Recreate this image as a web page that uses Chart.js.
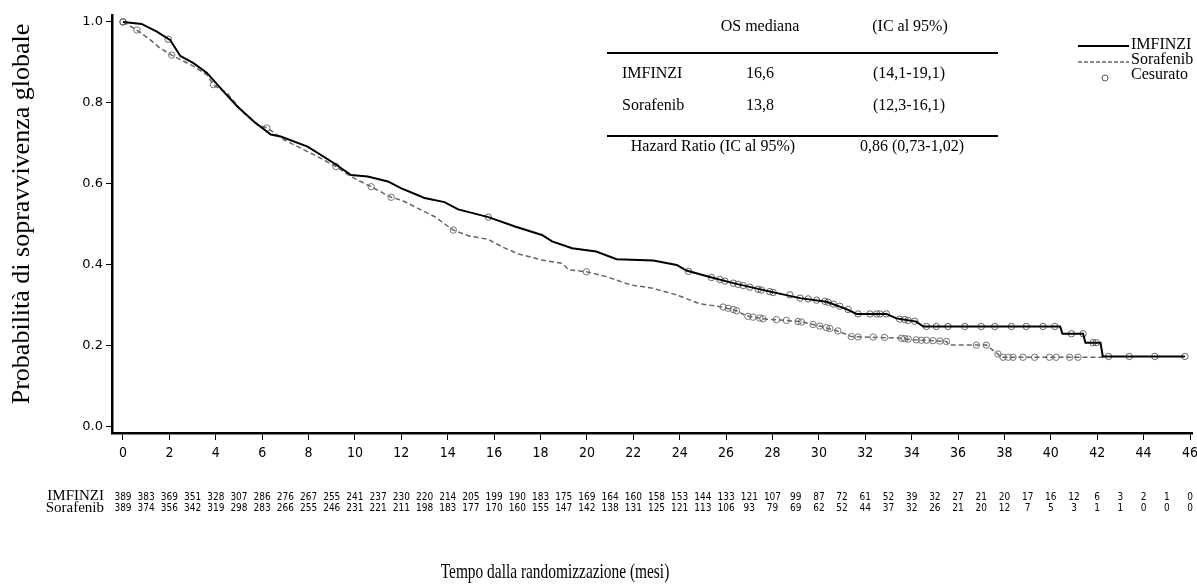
<!DOCTYPE html>
<html>
<head>
<meta charset="utf-8">
<script src="https://cdn.jsdelivr.net/npm/chart.js@4.4.1/dist/chart.umd.min.js"></script>
<style>
  html, body { margin: 0; padding: 0; background: #fff; }
  canvas { display: block; }
</style>
</head>
<body>
<canvas id="km-chart" width="1197" height="588"></canvas>
<script>
// Curva IMFINZI (mesi / probabilità)
const imfTime = [0, 0.8, 1.46, 2.04, 2.47, 3.04, 3.62, 4.34, 4.93, 5.64, 6.37, 6.8, 7.96, 9.1, 9.83, 10.55, 11.42, 12.0, 12.72, 13.0, 13.86, 14.45, 15.75, 16.9, 18.06, 18.5, 19.36, 20.4, 21.28, 22.86, 23.87, 24.29, 25.3, 26.31, 27.9, 29.19, 30.33, 31.19, 31.62, 32.91, 33.34, 34.2, 34.5, 40.4, 40.5, 41.39, 41.49, 42.14, 42.24, 45.78];
const imfSurv = [1.0, 0.995, 0.976, 0.955, 0.916, 0.898, 0.874, 0.828, 0.791, 0.754, 0.722, 0.717, 0.692, 0.651, 0.622, 0.618, 0.606, 0.589, 0.572, 0.565, 0.555, 0.537, 0.518, 0.495, 0.474, 0.458, 0.441, 0.433, 0.414, 0.411, 0.400, 0.386, 0.370, 0.355, 0.334, 0.318, 0.309, 0.291, 0.279, 0.279, 0.268, 0.260, 0.248, 0.248, 0.230, 0.230, 0.208, 0.208, 0.174, 0.174];

// Curva Sorafenib
const sorTime = [0, 0.59, 1.17, 1.6, 2.1, 3.05, 3.62, 3.91, 4.49, 5.07, 5.79, 6.22, 6.94, 7.67, 8.53, 9.18, 9.83, 10.7, 11.56, 12.0, 12.57, 13.44, 14.24, 14.89, 15.75, 16.33, 17.05, 18.06, 18.93, 19.22, 19.98, 20.85, 21.85, 22.86, 23.87, 24.87, 25.73, 26.45, 26.87, 27.74, 28.32, 29.19, 30.05, 30.9, 31.4, 33.48, 34.06, 35.5, 35.62, 37.22, 37.65, 37.87, 42.25];
const sorSurv = [1.0, 0.980, 0.956, 0.935, 0.918, 0.890, 0.869, 0.844, 0.824, 0.783, 0.746, 0.738, 0.709, 0.688, 0.663, 0.643, 0.618, 0.593, 0.567, 0.560, 0.544, 0.519, 0.486, 0.472, 0.463, 0.445, 0.427, 0.412, 0.404, 0.388, 0.383, 0.371, 0.351, 0.342, 0.326, 0.304, 0.297, 0.287, 0.274, 0.266, 0.264, 0.260, 0.249, 0.235, 0.223, 0.219, 0.215, 0.211, 0.202, 0.202, 0.183, 0.172, 0.172];

// Pazienti censurati
const imfCensTime = [0, 1.95, 15.75, 24.38, 25.37, 25.73, 25.95, 26.31, 26.52, 26.74, 27.02, 27.38, 27.52, 27.88, 28.03, 28.75, 29.19, 29.54, 29.9, 30.26, 30.4, 30.62, 30.9, 31.26, 31.69, 32.2, 32.49, 32.63, 32.91, 33.48, 33.7, 33.85, 34.13, 34.64, 35.06, 35.57, 36.29, 37.0, 37.58, 38.3, 38.94, 39.66, 40.17, 40.89, 41.39, 41.82, 41.96, 42.49, 43.38, 44.48, 45.78];
const imfCensSurv = [1.0, 0.957, 0.518, 0.384, 0.369, 0.364, 0.360, 0.355, 0.352, 0.349, 0.345, 0.340, 0.338, 0.334, 0.332, 0.326, 0.318, 0.316, 0.313, 0.310, 0.308, 0.303, 0.298, 0.290, 0.279, 0.279, 0.279, 0.279, 0.279, 0.266, 0.265, 0.263, 0.261, 0.248, 0.248, 0.248, 0.248, 0.248, 0.248, 0.248, 0.248, 0.248, 0.248, 0.230, 0.230, 0.208, 0.208, 0.174, 0.174, 0.174, 0.174];
const sorCensTime = [0, 0.6, 2.1, 3.9, 6.2, 9.18, 10.7, 11.56, 14.24, 19.98, 25.87, 26.09, 26.31, 26.45, 26.94, 27.16, 27.45, 27.59, 28.17, 28.6, 29.1, 29.25, 29.75, 30.04, 30.33, 30.47, 30.82, 31.4, 31.69, 32.34, 32.83, 33.56, 33.7, 33.85, 34.2, 34.42, 34.64, 34.92, 35.21, 35.5, 36.79, 37.22, 37.72, 37.94, 38.16, 38.37, 38.8, 39.3, 39.94, 40.23, 40.81, 41.17];
const sorCensSurv = [1.0, 0.980, 0.918, 0.845, 0.738, 0.643, 0.593, 0.567, 0.486, 0.383, 0.296, 0.293, 0.290, 0.287, 0.273, 0.271, 0.269, 0.267, 0.265, 0.263, 0.260, 0.259, 0.253, 0.249, 0.245, 0.243, 0.237, 0.223, 0.222, 0.222, 0.221, 0.219, 0.218, 0.217, 0.215, 0.214, 0.214, 0.213, 0.212, 0.211, 0.202, 0.202, 0.180, 0.172, 0.172, 0.172, 0.172, 0.172, 0.172, 0.172, 0.172, 0.172];

// Tick e numeri a rischio
const xTicks = [0, 2, 4, 6, 8, 10, 12, 14, 16, 18, 20, 22, 24, 26, 28, 30, 32, 34, 36, 38, 40, 42, 44, 46];
const yTicks = [0, 0.2, 0.4, 0.6, 0.8, 1.0];
const riskTimes = [0, 1, 2, 3, 4, 5, 6, 7, 8, 9, 10, 11, 12, 13, 14, 15, 16, 17, 18, 19, 20, 21, 22, 23, 24, 25, 26, 27, 28, 29, 30, 31, 32, 33, 34, 35, 36, 37, 38, 39, 40, 41, 42, 43, 44, 45, 46];
const imfRisk = [389, 383, 369, 351, 328, 307, 286, 276, 267, 255, 241, 237, 230, 220, 214, 205, 199, 190, 183, 175, 169, 164, 160, 158, 153, 144, 133, 121, 107, 99, 87, 72, 61, 52, 39, 32, 27, 21, 20, 17, 16, 12, 6, 3, 2, 1, 0];
const sorRisk = [389, 374, 356, 342, 319, 298, 283, 266, 255, 246, 231, 221, 211, 198, 183, 177, 170, 160, 155, 147, 142, 138, 131, 125, 121, 113, 106, 93, 79, 69, 62, 52, 44, 37, 32, 26, 21, 20, 12, 7, 5, 3, 1, 1, 0, 0, 0];

// Tabella riassuntiva
const tableHeader = ['OS mediana', '(IC al 95%)'];
const tableRows = [
    ['IMFINZI', '16,6', '(14,1-19,1)'],
    ['Sorafenib', '13,8', '(12,3-16,1)']
];
const hazardRow = ['Hazard Ratio (IC al 95%)', '0,86 (0,73-1,02)'];

const SERIF = "'Liberation Serif', 'Times New Roman', serif";
const NARROW = "'Liberation Sans Narrow', 'DejaVu Sans Condensed', sans-serif";

const toPoints = (xs, ys) => xs.map((t, i) => ({ x: t, y: ys[i] }));

// Testi aggiuntivi: tabella, legenda, numeri a rischio, titoli
const extrasPlugin = {
    id: 'kmExtras',
    afterDraw(chart) {
        const ctx = chart.ctx;
        const xs = chart.scales.x;
        ctx.save();
        ctx.fillStyle = '#000';
        ctx.textBaseline = 'middle';

        // tabella
        ctx.font = '16px ' + SERIF;
        ctx.textAlign = 'center';
        ctx.fillText(tableHeader[0], 760, 27);
        ctx.fillText(tableHeader[1], 910, 27);
        ctx.lineWidth = 2;
        ctx.strokeStyle = '#000';
        ctx.beginPath();
        ctx.moveTo(607, 53); ctx.lineTo(998, 53);
        ctx.moveTo(607, 136); ctx.lineTo(998, 136);
        ctx.stroke();
        tableRows.forEach((row, i) => {
            const y = 74 + i * 32;
            ctx.textAlign = 'left';
            ctx.fillText(row[0], 622, y);
            ctx.textAlign = 'center';
            ctx.fillText(row[1], 760, y);
            ctx.fillText(row[2], 909, y);
        });
        ctx.fillText(hazardRow[0], 713, 147);
        ctx.fillText(hazardRow[1], 912, 147);

        // legenda
        ctx.textAlign = 'left';
        ctx.font = '16px ' + SERIF;
        ctx.lineWidth = 2;
        ctx.strokeStyle = '#000';
        ctx.beginPath(); ctx.moveTo(1078, 46); ctx.lineTo(1129, 46); ctx.stroke();
        ctx.fillText('IMFINZI', 1131, 45);
        ctx.lineWidth = 1.5;
        ctx.strokeStyle = '#666';
        ctx.setLineDash([4, 2]);
        ctx.beginPath(); ctx.moveTo(1078, 62); ctx.lineTo(1129, 62); ctx.stroke();
        ctx.setLineDash([]);
        ctx.fillText('Sorafenib', 1131, 60);
        ctx.lineWidth = 1;
        ctx.strokeStyle = '#555';
        ctx.beginPath(); ctx.arc(1105, 78, 3, 0, Math.PI * 2); ctx.stroke();
        ctx.fillText('Cesurato', 1131, 75);

        // numeri a rischio
        ctx.textAlign = 'right';
        ctx.font = '15px ' + SERIF;
        ctx.fillText('IMFINZI', 104, 496);
        ctx.fillText('Sorafenib', 104, 508);
        ctx.textAlign = 'center';
        ctx.font = '10px ' + NARROW;
        riskTimes.forEach((t, i) => {
            const px = xs.getPixelForValue(t);
            ctx.fillText(String(imfRisk[i]), px, 497);
            ctx.fillText(String(sorRisk[i]), px, 508);
        });

        // titolo asse x (testo stretto come nel riferimento)
        ctx.save();
        ctx.translate(555, 572);
        ctx.scale(0.7, 1);
        ctx.font = '22px ' + SERIF;
        ctx.fillText('Tempo dalla randomizzazione (mesi)', 0, 0);
        ctx.restore();

        // titolo asse y
        ctx.translate(22, 214);
        ctx.rotate(-Math.PI / 2);
        ctx.font = '26px ' + SERIF;
        ctx.fillText('Probabilità di sopravvivenza globale', 0, 0);
        ctx.restore();
    }
};

const ctx = document.getElementById('km-chart').getContext('2d');
new Chart(ctx, {
    type: 'line',
    data: {
        datasets: [{
            label: 'IMFINZI',
            data: toPoints(imfTime, imfSurv),
            borderColor: '#000',
            borderWidth: 2,
            pointRadius: 0,
            tension: 0,
            fill: false
        }, {
            label: 'Sorafenib',
            data: toPoints(sorTime, sorSurv),
            borderColor: '#666',
            borderWidth: 1.5,
            borderDash: [5, 3],
            pointRadius: 0,
            tension: 0,
            fill: false
        }, {
            label: 'Cesurato IMFINZI',
            data: toPoints(imfCensTime, imfCensSurv),
            showLine: false,
            pointStyle: 'circle',
            pointRadius: 3.2,
            pointBorderWidth: 0.9,
            pointBorderColor: '#555',
            pointBackgroundColor: 'rgba(255,255,255,0)'
        }, {
            label: 'Cesurato Sorafenib',
            data: toPoints(sorCensTime, sorCensSurv),
            showLine: false,
            pointStyle: 'circle',
            pointRadius: 3.2,
            pointBorderWidth: 0.9,
            pointBorderColor: '#666',
            pointBackgroundColor: 'rgba(255,255,255,0)'
        }]
    },
    options: {
        responsive: false,
        animation: false,
        layout: { padding: { top: 15, right: 0, bottom: 0, left: 0 } },
        plugins: {
            legend: { display: false },
            tooltip: { enabled: false }
        },
        scales: {
            x: {
                type: 'linear',
                min: -0.474,
                max: 46.09,
                afterBuildTicks: s => { s.ticks = xTicks.map(v => ({ value: v })); },
                afterFit: s => { s.height = 155; s.paddingRight = 0; s.paddingLeft = 0; },
                ticks: {
                    color: '#000',
                    font: { family: NARROW, size: 14 },
                    padding: 5,
                    maxRotation: 0,
                    autoSkip: false
                },
                grid: { drawOnChartArea: false, tickLength: 7, color: '#000', lineWidth: 1 },
                border: { color: '#000', width: 2.5 }
            },
            y: {
                type: 'linear',
                min: -0.015,
                max: 1.017,
                afterBuildTicks: s => { s.ticks = yTicks.map(v => ({ value: v })); },
                afterFit: s => { s.width = 112; },
                ticks: {
                    color: '#000',
                    font: { family: "'DejaVu Sans', sans-serif", size: 13 },
                    padding: 3,
                    callback: v => v.toFixed(1)
                },
                grid: { drawOnChartArea: false, tickLength: 6, color: '#000', lineWidth: 1 },
                border: { color: '#000', width: 2.5 }
            }
        }
    },
    plugins: [extrasPlugin]
});
</script>
</body>
</html>
